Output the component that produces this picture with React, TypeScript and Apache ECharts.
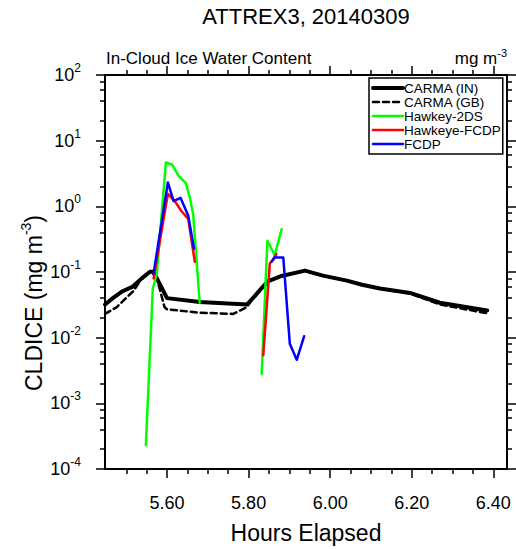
import React, { useEffect, useRef } from 'react';
import * as echarts from 'echarts';

const FONT = '"Liberation Sans", Arial, Helvetica, sans-serif';

// Hours elapsed axis range
const X_MIN = 5.4478;
const X_MAX = 6.4336;
const Y_MIN = 1e-4;
const Y_MAX = 1e2;

// CARMA (IN)
const carmaInTime = [5.448, 5.467, 5.491, 5.516, 5.538, 5.558, 5.565, 5.575, 5.6, 5.68, 5.796, 5.815, 5.832, 5.847, 5.881, 5.938, 5.982, 6.041, 6.078, 6.122, 6.196, 6.269, 6.385];
const carmaIn = [0.032, 0.04, 0.051, 0.06, 0.08, 0.101, 0.101, 0.08, 0.04, 0.035, 0.032, 0.043, 0.057, 0.072, 0.087, 0.105, 0.088, 0.074, 0.064, 0.056, 0.048, 0.034, 0.026];

// CARMA (GB)
const carmaGBTime = [5.448, 5.476, 5.517, 5.538, 5.558, 5.565, 5.575, 5.594, 5.6, 5.68, 5.762, 5.795, 5.815, 5.832, 5.847, 5.881, 5.938, 5.982, 6.041, 6.078, 6.122, 6.196, 6.269, 6.385];
const carmaGB = [0.023, 0.029, 0.051, 0.08, 0.101, 0.101, 0.08, 0.029, 0.027, 0.024, 0.023, 0.029, 0.043, 0.057, 0.072, 0.087, 0.105, 0.088, 0.074, 0.064, 0.056, 0.047, 0.032, 0.0235];

// Hawkey-2DS (two cloud passes)
const h2dsTime1 = [5.548, 5.565, 5.575, 5.597, 5.612, 5.629, 5.646, 5.656, 5.664, 5.68];
const h2ds1 = [0.00023, 0.056, 0.095, 4.65, 4.34, 2.87, 2.26, 1.35, 0.76, 0.034];
const h2dsTime2 = [5.832, 5.846, 5.864, 5.881];
const h2ds2 = [0.0028, 0.3, 0.18, 0.45];

// Hawkeye-FCDP
const hfcdpTime1 = [5.567, 5.602, 5.619, 5.635, 5.652, 5.668];
const hfcdp1 = [0.08, 1.55, 1.2, 0.85, 0.64, 0.143];
const hfcdpTime2 = [5.836, 5.852, 5.86, 5.868];
const hfcdp2 = [0.0054, 0.135, 0.155, 0.187];

// FCDP
const fcdpTime1 = [5.567, 5.602, 5.616, 5.633, 5.652, 5.666];
const fcdp1 = [0.096, 2.31, 1.2, 1.35, 0.72, 0.226];
const fcdpTime2 = [5.856, 5.864, 5.885, 5.901, 5.918, 5.936];
const fcdp2 = [0.143, 0.166, 0.166, 0.0081, 0.0046, 0.0105];

// Ticks
const xMajorTicks = [5.6, 5.8, 6.0, 6.2, 6.4];
const xMinorTicks = [5.5, 5.55, 5.65, 5.7, 5.75, 5.85, 5.9, 5.95, 6.05, 6.1, 6.15, 6.25, 6.3, 6.35];
const yMajorTicks = [1e-4, 1e-3, 1e-2, 1e-1, 1, 10, 100];
const yMinorMultipliers = [2, 4, 6, 8];
const yMinorDecades = [1e-4, 1e-3, 1e-2, 1e-1, 1, 10];
const yMinorTicks = yMinorDecades.flatMap((d) => yMinorMultipliers.map((m) => m * d));

const legendNames = ['CARMA (IN)', 'CARMA (GB)', 'Hawkey-2DS', 'Hawkeye-FCDP', 'FCDP'];
const colors = ['#000000', '#000000', '#00ff00', '#ff0000', '#0000ff'];

const zip = (t: number[], v: number[]) => t.map((x, i) => [x, v[i]]);

export default function App() {
  const ref = useRef<HTMLDivElement>(null);
  useEffect(() => {
    if (!ref.current) return;
    const chart = echarts.init(ref.current, null, { renderer: 'svg' });

    const axisLine = { show: true, onZero: false, lineStyle: { color: '#000', width: 2 } };
    const xAxisBase = (position: string, ticks: number[], len: number, labels: boolean, extra: any = {}) => ({
      type: 'value',
      position,
      min: X_MIN,
      max: X_MAX,
      gridIndex: 0,
      splitLine: { show: false },
      axisLine,
      axisTick: { show: true, inside: false, length: len, customValues: ticks, lineStyle: { color: '#000', width: 1.5 } },
      axisLabel: labels
        ? { show: true, customValues: ticks, formatter: (v: number) => v.toFixed(2), fontSize: 18, margin: 25, color: '#000', fontFamily: FONT }
        : { show: false },
      ...extra,
    });
    const yAxisBase = (position: string, ticks: number[], len: number, labels: boolean) => ({
      type: 'log',
      logBase: 10,
      position,
      min: Y_MIN,
      max: Y_MAX,
      gridIndex: 0,
      splitLine: { show: false },
      axisLine,
      axisTick: { show: true, inside: false, length: len, customValues: ticks, lineStyle: { color: '#000', width: 1.5 } },
      axisLabel: labels
        ? {
            show: true,
            customValues: ticks,
            margin: 24,
            formatter: (v: number) => `{b|10}{s|${Math.round(Math.log10(v))}}`,
            rich: {
              b: { fontSize: 18, lineHeight: 26, color: '#000', fontFamily: FONT },
              s: { fontSize: 12, lineHeight: 12, verticalAlign: 'top', color: '#000', fontFamily: FONT },
            },
          }
        : { show: false },
    });

    const lineSeries = (name: string, data: number[][], color: string, width: number, type: any = 'solid') => ({
      type: 'line',
      name,
      data,
      xAxisIndex: 0,
      yAxisIndex: 0,
      symbol: 'none',
      showSymbol: false,
      smooth: false,
      lineStyle: { color, width, type, cap: 'round', join: 'round' },
      itemStyle: { color },
      emphasis: { disabled: true },
    });

    const option: any = {
      animation: false,
      backgroundColor: '#ffffff',
      textStyle: { fontFamily: FONT },
      grid: { left: 105, right: 9, top: 75, bottom: 73, containLabel: false },
      xAxis: [
        xAxisBase('bottom', xMajorTicks, 9, true, {
          name: 'Hours Elapsed',
          nameLocation: 'middle',
          nameGap: 52,
          nameTextStyle: { fontSize: 23, color: '#000', fontFamily: FONT },
        }),
        xAxisBase('bottom', xMinorTicks, 5, false),
        xAxisBase('top', xMajorTicks, 9, false),
        xAxisBase('top', xMinorTicks, 5, false),
      ],
      yAxis: [
        yAxisBase('left', yMajorTicks, 9, true),
        yAxisBase('left', yMinorTicks, 5, false),
        yAxisBase('right', yMajorTicks, 9, false),
        yAxisBase('right', yMinorTicks, 5, false),
      ],
      legend: {
        orient: 'vertical',
        left: 369,
        top: 78,
        itemWidth: 30,
        itemHeight: 12.5,
        itemGap: 0,
        padding: [3, 2, 3, 2],
        backgroundColor: '#ffffff',
        borderColor: '#000',
        borderWidth: 1.5,
        borderRadius: 0,
        selectedMode: false,
        itemStyle: { color: 'rgba(0,0,0,0)', borderWidth: 0, opacity: 0 },
        textStyle: { fontSize: 13.5, lineHeight: 12.5, color: '#000', fontFamily: FONT, padding: [0, 0, 0, -4] },
        data: [
          { name: legendNames[0], lineStyle: { width: 4, opacity: 1 } },
          { name: legendNames[1], lineStyle: { width: 2.5, opacity: 1 } },
          { name: legendNames[2], lineStyle: { width: 2.5, opacity: 1 } },
          { name: legendNames[3], lineStyle: { width: 2.5, opacity: 1 } },
          { name: legendNames[4], lineStyle: { width: 2.5, opacity: 1 } },
        ],
      },
      graphic: [
        {
          type: 'text',
          x: 306,
          y: 16,
          style: { text: 'ATTREX3, 20140309', fontSize: 22, fontFamily: FONT, fill: '#000', align: 'center', verticalAlign: 'middle' },
        },
        {
          type: 'text',
          x: 106,
          y: 58,
          style: { text: 'In-Cloud Ice Water Content', fontSize: 17, fontFamily: FONT, fill: '#000', align: 'left', verticalAlign: 'middle' },
        },
        {
          type: 'text',
          x: 507,
          y: 58,
          style: {
            text: '{a|mg m}{s|-3}',
            align: 'right',
            verticalAlign: 'middle',
            rich: {
              a: { fontSize: 17, lineHeight: 22, fontFamily: FONT, fill: '#000', color: '#000' },
              s: { fontSize: 11, lineHeight: 11, verticalAlign: 'top', fontFamily: FONT, fill: '#000', color: '#000' },
            },
          },
        },
        {
          type: 'text',
          x: 34,
          y: 303,
          rotation: Math.PI / 2,
          style: {
            text: '{a|CLDICE (mg m}{s|-3}{a|)}',
            align: 'center',
            verticalAlign: 'middle',
            rich: {
              a: { fontSize: 23, lineHeight: 30, fontFamily: FONT, fill: '#000', color: '#000' },
              s: { fontSize: 14, lineHeight: 14, verticalAlign: 'top', fontFamily: FONT, fill: '#000', color: '#000' },
            },
          },
        },
      ],
      series: [
        lineSeries(legendNames[0], zip(carmaInTime, carmaIn), colors[0], 4),
        lineSeries(legendNames[1], zip(carmaGBTime, carmaGB), colors[1], 2.5, [6, 4]),
        lineSeries(legendNames[2], zip(h2dsTime1, h2ds1), colors[2], 2.5),
        lineSeries(legendNames[2], zip(h2dsTime2, h2ds2), colors[2], 2.5),
        lineSeries(legendNames[3], zip(hfcdpTime1, hfcdp1), colors[3], 2.5),
        lineSeries(legendNames[3], zip(hfcdpTime2, hfcdp2), colors[3], 2.5),
        lineSeries(legendNames[4], zip(fcdpTime1, fcdp1), colors[4], 2.5),
        lineSeries(legendNames[4], zip(fcdpTime2, fcdp2), colors[4], 2.5),
      ],
    };

    chart.setOption(option);
    return () => chart.dispose();
  }, []);

  return (
    <div
      ref={ref}
      style={{ position: 'fixed', left: 0, top: 0, width: 516, height: 549, background: '#ffffff' }}
    />
  );
}
